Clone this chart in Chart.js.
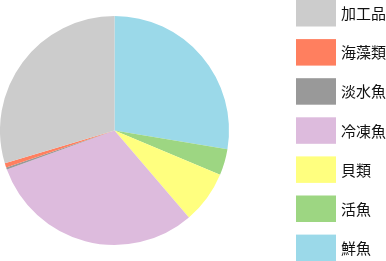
<!DOCTYPE html>
<html>
<head>
<meta charset="utf-8">
<script src="https://cdn.jsdelivr.net/npm/chart.js@4/dist/chart.umd.min.js"></script>
<style>
    html, body { margin: 0; padding: 0; background: #fff; overflow: hidden; }
    #wrap { width: 386px; height: 261px; }
</style>
</head>
<body>
<div id="wrap"><canvas id="myChart" width="386" height="261"></canvas></div>
<script>
// legend order (top to bottom)
const categories = ['加工品', '海藻類', '淡水魚', '冷凍魚', '貝類', '活魚', '鮮魚']
const shares = [29.6, 0.6, 0.3, 30.7, 7.4, 3.7, 27.6]
const colors = ['#cccccc', '#ff7f5f', '#999999', '#ddbbdd', '#ffff7f', '#9dd682', '#9bd9e9']

document.addEventListener('DOMContentLoaded', function() {
    // pie runs clockwise from the top starting with the last legend entry
    const pie_labels = categories.slice().reverse()
    const pie_values = shares.slice().reverse()
    const pie_colors = colors.slice().reverse()

    // legend on the right: squares stacked over the full height
    const side_legend = {
        id: 'side_legend',
        afterDraw(chart) {
            const ctx = chart.ctx
            const step = 39.1
            ctx.save()
            ctx.font = '15px "Noto Sans CJK JP", sans-serif'
            ctx.textBaseline = 'middle'
            ctx.textAlign = 'left'
            for (var i = 0; i < categories.length; i++) {
                let y = i * step
                ctx.fillStyle = colors[i]
                ctx.fillRect(296, y, 40, 26.5)
                ctx.fillStyle = '#111'
                ctx.fillText(categories[i], 341, y + 13.5)
            }
            ctx.restore()
        }
    }

    let canvas = document.getElementById('myChart')
    let ctx = canvas.getContext('2d')

    const config = {
        type: 'pie',
        data: {
            labels: pie_labels,
            datasets: [{
                data: pie_values,
                backgroundColor: pie_colors,
                borderWidth: 0,
            }]
        },
        options: {
            responsive: false,
            animation: false,
            layout: {
                padding: { left: 0, right: 157, top: 16, bottom: 16 }
            },
            plugins: {
                legend: { display: false },
                tooltip: { enabled: false },
            },
        },
        plugins: [side_legend],
    }

    new Chart(ctx, config)
})
</script>
</body>
</html>
